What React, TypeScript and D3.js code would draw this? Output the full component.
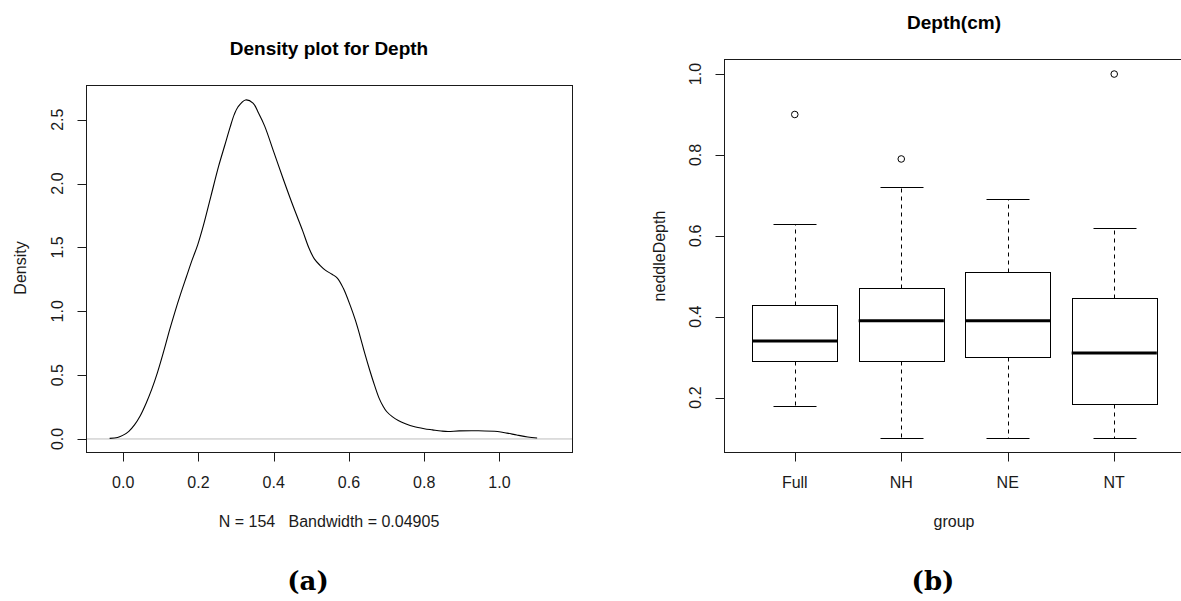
import React from 'react';
import * as d3 from 'd3';

const width = 1181;
const height = 601;

// density curve
const densityX = [-0.036, -0.015, 0.0, 0.015, 0.03, 0.045, 0.061, 0.076, 0.091, 0.107, 0.122, 0.137, 0.152, 0.168, 0.183, 0.198, 0.213, 0.233, 0.254, 0.27, 0.284, 0.295, 0.305, 0.325, 0.345, 0.36, 0.376, 0.401, 0.426, 0.452, 0.477, 0.493, 0.508, 0.523, 0.538, 0.555, 0.569, 0.585, 0.604, 0.617, 0.629, 0.642, 0.655, 0.668, 0.68, 0.69, 0.7, 0.715, 0.731, 0.75, 0.772, 0.8, 0.822, 0.845, 0.863, 0.893, 0.944, 0.995, 1.02, 1.046, 1.075, 1.1];
const densityY = [0.005, 0.012, 0.03, 0.06, 0.11, 0.18, 0.28, 0.39, 0.52, 0.68, 0.84, 0.99, 1.13, 1.27, 1.4, 1.52, 1.67, 1.9, 2.14, 2.3, 2.44, 2.54, 2.6, 2.655, 2.63, 2.55, 2.45, 2.24, 2.03, 1.82, 1.63, 1.5, 1.41, 1.36, 1.32, 1.29, 1.26, 1.18, 1.04, 0.93, 0.81, 0.67, 0.54, 0.42, 0.32, 0.26, 0.215, 0.175, 0.145, 0.12, 0.097, 0.08, 0.071, 0.062, 0.058, 0.063, 0.064, 0.058, 0.046, 0.031, 0.016, 0.008];
const densityXTicks = [0, 0.2, 0.4, 0.6, 0.8, 1.0];
const densityYTicks = [0, 0.5, 1.0, 1.5, 2.0, 2.5];

// boxplot stats for panel (b)
const groups = ['Full', 'NH', 'NE', 'NT'];
const whiskerLow = [0.18, 0.1, 0.1, 0.1];
const q1 = [0.29, 0.29, 0.3, 0.185];
const medians = [0.34, 0.39, 0.39, 0.31];
const q3 = [0.43, 0.47, 0.51, 0.445];
const whiskerHigh = [0.63, 0.72, 0.69, 0.62];
const outliers = [[0.9], [0.79], [], [1.0]];
const boxYTicks = [0.2, 0.4, 0.6, 0.8, 1.0];

const font = 'Liberation Sans, Arial, sans-serif';
const ink = '#1a1a1a';

function DensityPanel() {
  const x = d3.scaleLinear().domain([-0.0975, 1.194]).range([86.5, 572.5]);
  const y = d3.scaleLinear().domain([-0.106, 2.768]).range([452.5, 85.5]);
  const pts: [number, number][] = densityX.map((d, i) => [d, densityY[i]]);
  const line = d3.line<[number, number]>()
    .x(d => x(d[0]))
    .y(d => y(d[1]))
    .curve(d3.curveCatmullRom);

  return (
    <g fontFamily={font} fill={ink}>
      <text x={329} y={48} textAnchor="middle" dominantBaseline="central" fontSize={19} fontWeight="bold" fill="#000">
        Density plot for Depth
      </text>
      <line x1={x.range()[0]} x2={x.range()[1]} y1={y(0)} y2={y(0)} stroke="#bebebe" strokeWidth={1} />
      <path d={line(pts) || ''} fill="none" stroke="#000" strokeWidth={1.1} />
      <rect x={86.5} y={85.5} width={486} height={367} fill="none" stroke={ink} strokeWidth={1} />
      {densityXTicks.map(t => (
        <g key={t}>
          <line x1={Math.round(x(t)) + 0.5} x2={Math.round(x(t)) + 0.5} y1={452.5} y2={461.5} stroke={ink} />
          <text x={x(t)} y={482} textAnchor="middle" dominantBaseline="central" fontSize={16}>
            {t.toFixed(1)}
          </text>
        </g>
      ))}
      {densityYTicks.map(t => (
        <g key={t}>
          <line x1={77.5} x2={86.5} y1={Math.round(y(t)) + 0.5} y2={Math.round(y(t)) + 0.5} stroke={ink} />
          <text transform={`translate(57,${y(t)}) rotate(-90)`} textAnchor="middle" dominantBaseline="central" fontSize={16}>
            {t.toFixed(1)}
          </text>
        </g>
      ))}
      <text transform="translate(20,268) rotate(-90)" textAnchor="middle" dominantBaseline="central" fontSize={16}>
        Density
      </text>
      <text x={329} y={521.5} textAnchor="middle" dominantBaseline="central" fontSize={16} style={{ whiteSpace: 'pre' }}>
        {'N = 154   Bandwidth = 0.04905'}
      </text>
    </g>
  );
}

function BoxPanel() {
  const x = d3.scaleLinear().domain([0.34, 4.66]).range([724.5, 1184.5]);
  const y = d3.scaleLinear().domain([0.064, 1.036]).range([452.5, 59.5]);
  const px = (v: number) => Math.round(v) + 0.5;

  return (
    <g fontFamily={font} fill={ink}>
      <text x={954} y={22} textAnchor="middle" dominantBaseline="central" fontSize={19} fontWeight="bold" fill="#000">
        Depth(cm)
      </text>
      {groups.map((g, i) => {
        const c = i + 1;
        const cx = px(x(c));
        return (
          <g key={g}>
            <line x1={cx} x2={cx} y1={px(y(q3[i]))} y2={px(y(whiskerHigh[i]))} stroke="#000" strokeDasharray="4,4" />
            <line x1={cx} x2={cx} y1={px(y(q1[i]))} y2={px(y(whiskerLow[i]))} stroke="#000" strokeDasharray="4,4" />
            <line x1={px(x(c - 0.2))} x2={px(x(c + 0.2))} y1={px(y(whiskerHigh[i]))} y2={px(y(whiskerHigh[i]))} stroke="#000" />
            <line x1={px(x(c - 0.2))} x2={px(x(c + 0.2))} y1={px(y(whiskerLow[i]))} y2={px(y(whiskerLow[i]))} stroke="#000" />
            <rect
              x={px(x(c - 0.4))}
              y={px(y(q3[i]))}
              width={Math.round(x(c + 0.4)) - Math.round(x(c - 0.4))}
              height={Math.round(y(q1[i])) - Math.round(y(q3[i]))}
              fill="#fff"
              stroke="#000"
            />
            <line x1={x(c - 0.4)} x2={x(c + 0.4)} y1={y(medians[i])} y2={y(medians[i])} stroke="#000" strokeWidth={3} />
            {outliers[i].map((o, j) => (
              <circle key={j} cx={x(c)} cy={y(o)} r={3.3} fill="none" stroke="#000" strokeWidth={1} />
            ))}
            <line x1={cx} x2={cx} y1={452.5} y2={461.5} stroke={ink} />
            <text x={x(c)} y={482} textAnchor="middle" dominantBaseline="central" fontSize={16}>
              {g}
            </text>
          </g>
        );
      })}
      <rect x={724.5} y={59.5} width={460} height={393} fill="none" stroke={ink} strokeWidth={1} />
      {boxYTicks.map(t => (
        <g key={t}>
          <line x1={715.5} x2={724.5} y1={px(y(t))} y2={px(y(t))} stroke={ink} />
          <text transform={`translate(695,${y(t)}) rotate(-90)`} textAnchor="middle" dominantBaseline="central" fontSize={16}>
            {t.toFixed(1)}
          </text>
        </g>
      ))}
      <text transform="translate(659,256) rotate(-90)" textAnchor="middle" dominantBaseline="central" fontSize={16}>
        neddleDepth
      </text>
      <text x={954} y={521.5} textAnchor="middle" dominantBaseline="central" fontSize={16}>
        group
      </text>
    </g>
  );
}

export default function App() {
  return (
    <svg
      width={width}
      height={height}
      style={{ position: 'absolute', left: 0, top: 0, background: '#fff' }}
    >
      <rect width={width} height={height} fill="#fff" />
      <DensityPanel />
      <BoxPanel />
      <text x={308} y={581} textAnchor="middle" dominantBaseline="central" fontFamily="DejaVu Serif, serif" fontWeight="bold" fontSize={26}>
        (a)
      </text>
      <text x={933} y={581} textAnchor="middle" dominantBaseline="central" fontFamily="DejaVu Serif, serif" fontWeight="bold" fontSize={26}>
        (b)
      </text>
    </svg>
  );
}
